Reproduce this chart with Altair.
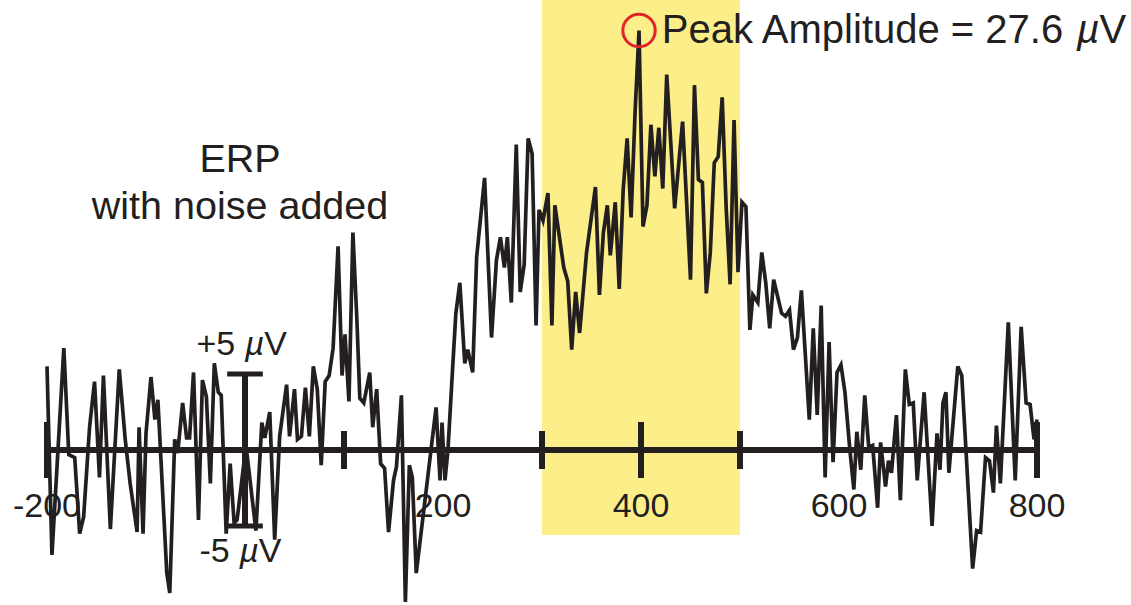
import altair as alt
import pandas as pd

# ERP waveform with noise (time in ms, amplitude in microvolts)
time_ms = [
    -200, -195, -183, -178, -172, -167, -163, -157, -152, -147, -143, -136, -127, -121, -116,
    -109, -107, -103, -100, -95, -91, -88, -79, -76, -71, -68, -63, -59, -56, -52, -47, -43,
    -39, -35, -31, -27, -24, -19, -15, -11, -8, 1, 11, 17, 20, 25, 30, 35, 42, 45, 50, 53, 57,
    61, 65, 69, 73, 77, 81, 85, 89, 94, 98, 101, 105, 109, 113, 116, 120, 126, 129, 133, 137,
    141, 145, 150, 153, 158, 162, 166, 169, 173, 193, 197, 199, 202, 205, 210, 213, 217, 222,
    225, 230, 234, 242, 249, 254, 258, 262, 265, 269, 274, 278, 282, 286, 290, 294, 297, 301,
    306, 310, 313, 322, 326, 330, 334, 338, 345, 354, 358, 362, 366, 369, 374, 378, 382, 386,
    390, 394, 398, 402, 406, 410, 414, 418, 422, 426, 434, 442, 450, 454, 458, 462, 466, 470,
    474, 478, 482, 486, 490, 494, 498, 502, 506, 510, 513, 518, 522, 526, 530, 534, 538, 542,
    546, 550, 554, 558, 562, 570, 574, 578, 582, 586, 590, 594, 598, 602, 606, 611, 615, 618,
    622, 626, 630, 634, 639, 642, 647, 650, 653, 658, 662, 667, 671, 675, 679, 686, 694, 699,
    702, 705, 708, 711, 720, 724, 735, 739, 743, 748, 752, 756, 759, 763, 771, 778, 784, 789,
    793, 797, 800,
]
amplitude_uv = [
    5.5, -6.9, 6.7, -0.3, -0.5, -5.5, -4.4, 1.5, 4.5, -1.8, 4.9, -5.2, 5.3, 0.7, -2.2,
    -5.4, 1.5, -5.5, 1.1, 4.8, 2.0, 3.3, -8.1, -9.4, 0.7, -0.2, 3.1, 0.8, 0.8, 5.1, -4.6, 4.6,
    3.5, -2.2, 5.7, 3.8, 3.6, -5.5, -0.9, -4.8, -4.6, 0.3, -5.3, 1.8, 0.8, 2.5, -5.9, 0.9, 4.3,
    0.9, 4.0, 0.7, 0.9, 4.1, 0.9, 5.5, 4.0, -1.0, 4.5, 4.9, 6.7, 13.4, 4.9, 7.6, 3.2, 14.3,
    8.6, 3.4, 3.1, 5.1, 1.5, 4.0, -0.9, -1.2, -5.4, -2.0, -1.1, 3.6, -10.0, -1.0, -1.8, -8.1,
    2.8, -2.0, 1.8, -2.0, 0.0, 5.7, 9.0, 11.0, 5.7, 6.6, 5.1, 12.7, 17.9, 7.4, 12.5, 14.0,
    12.0, 14.0, 9.7, 20.1, 10.4, 12.2, 20.5, 19.5, 8.2, 15.8, 15.1, 16.9, 8.2, 16.1, 12.0,
    11.1, 6.6, 10.4, 7.7, 13.0, 17.3, 10.2, 14.3, 16.1, 12.8, 16.3, 10.6, 17.1, 20.5, 15.3,
    22.2, 27.6, 14.7, 16.1, 21.4, 18.0, 21.2, 17.2, 24.7, 15.9, 21.6, 11.2, 24.0, 17.8, 17.6,
    10.3, 13.0, 18.9, 19.3, 23.2, 16.0, 10.9, 21.7, 11.7, 16.3, 16.0, 7.9, 10.2, 9.7, 13.0,
    11.0, 8.0, 11.2, 10.1, 9.0, 8.8, 9.2, 6.6, 7.4, 10.5, 2.0, 8.0, 2.3, 9.5, -1.8, 7.1, -0.8,
    5.1, 5.6, 3.8, 0.0, -2.6, 1.2, -1.3, 3.6, 0.2, 0.3, -3.8, 0.5, -2.4, -0.7, -1.5, 2.3, -3.3,
    5.3, 3.0, 3.1, -2.0, 3.8, -5.0, 1.1, -1.3, 3.1, 3.8, -1.5, 5.5, 4.9, -7.8, -5.3, -5.4,
    -0.5, -0.7, -2.8, 1.6, -2.2, 8.4, -2.0, 8.1, 3.1, 3.0, 0.7, 2.0,
]

major_ticks = [-200, 400, 800]
minor_ticks = [100, 300, 500]
tick_labels = [-200, 200, 400, 600, 800]
measure_window = [300, 500]
scale_bar = 5

INK = "#231f20"
YELLOW = "#fcef89"
RED = "#e3232a"
FONT = "Liberation Sans"

# Layout: pixels per unit, with 0 ms / 0 uV placed inside a borderless canvas
W, H = 1131, 605
PX_MS = 0.99
PX_UV = 15.2
X_MIN = -200 - 47 / PX_MS
X_MAX = X_MIN + W / PX_MS
Y_MAX = 450 / PX_UV
Y_MIN = Y_MAX - H / PX_UV

xs = alt.Scale(domain=[X_MIN, X_MAX], nice=False, zero=False)
ys = alt.Scale(domain=[Y_MIN, Y_MAX], nice=False, zero=False)


def X(field="t"):
    return alt.X(f"{field}:Q", scale=xs, axis=None)


def Y(field="v"):
    return alt.Y(f"{field}:Q", scale=ys, axis=None)


wave = pd.DataFrame({"t": time_ms, "v": amplitude_uv})
peak = wave.loc[[wave["v"].idxmax()]]

window = pd.DataFrame({"t": [measure_window[0]], "t2": [measure_window[1]],
                       "v": [Y_MAX], "v2": [-5.6]})
highlight = alt.Chart(window).mark_rect(color=YELLOW).encode(
    x=X(), x2="t2", y=Y(), y2="v2")

line = alt.Chart(wave).mark_line(color=INK, strokeWidth=3.7).encode(x=X(), y=Y())

axis_df = pd.DataFrame({"t": [major_ticks[0]], "t2": [major_ticks[-1]], "v": [0]})
axis_line = alt.Chart(axis_df).mark_rule(color=INK, strokeWidth=6).encode(
    x=X(), x2="t2", y=Y())

major = alt.Chart(pd.DataFrame({"t": major_ticks, "v": 0})).mark_tick(
    orient="vertical", color=INK, size=56, thickness=6, opacity=1).encode(x=X(), y=Y())
minor = alt.Chart(pd.DataFrame({"t": minor_ticks, "v": 0})).mark_tick(
    orient="vertical", color=INK, size=38, thickness=6, opacity=1).encode(x=X(), y=Y())

bar_df = pd.DataFrame({"t": [0], "v": [-scale_bar], "v2": [scale_bar]})
bar = alt.Chart(bar_df).mark_rule(color=INK, strokeWidth=6).encode(x=X(), y=Y(), y2="v2")
caps_df = pd.DataFrame({"t": [-18, -18], "t2": [18, 18], "v": [scale_bar, -scale_bar]})
caps = alt.Chart(caps_df).mark_rule(color=INK, strokeWidth=5).encode(x=X(), x2="t2", y=Y())

ring = alt.Chart(peak).mark_point(shape="circle", filled=False, size=1050,
                                  strokeWidth=3, color=RED, opacity=1).encode(x=X(), y=Y())

labels_df = pd.DataFrame({"t": tick_labels, "v": -4.4,
                          "text": [str(x) for x in tick_labels]})
tick_text = alt.Chart(labels_df).mark_text(
    font=FONT, fontSize=34, color=INK, align="center", baseline="alphabetic").encode(
    x=X(), y=Y(), text="text:N")

title_df = pd.DataFrame({"t": [-5, -5], "v": [18.3, 15.2],
                         "text": ["ERP", "with noise added"]})
title_text = alt.Chart(title_df).mark_text(
    font=FONT, fontSize=39.5, color=INK, align="center", baseline="alphabetic").encode(
    x=X(), y=Y(), text="text:N")

# Arial-compatible advance widths (em) used to run text segments together
ADV = {"P": .667, "e": .556, "a": .556, "k": .5, " ": .278, "A": .667, "m": .833,
       "p": .556, "l": .222, "i": .222, "t": .278, "u": .556, "d": .556, "=": .584,
       "2": .556, "7": .556, ".": .278, "6": .556, "+": .584, "5": .556, "-": .333,
       "\u00b5": .577, "V": .667}


def run_text(t0, v, size, parts):
    """Lay out (text, style) parts left to right starting at t0."""
    layers = []
    t = t0
    for text, style in parts:
        df = pd.DataFrame({"t": [t], "v": [v], "text": [text]})
        layers.append(alt.Chart(df).mark_text(
            font=FONT, fontSize=size, fontStyle=style, color=INK,
            align="left", baseline="alphabetic").encode(x=X(), y=Y(), text="text:N"))
        t += sum(ADV.get(c, .556) for c in text) * size / PX_MS
    return layers


MU = "\u00b5"
peak_label = run_text(421, 26.8, 40, [("Peak Amplitude = 27.6 ", "normal"),
                                      (MU, "italic"), ("V", "normal")])
plus_label = run_text(-49, 6.25, 34, [("+5 ", "normal"), (MU, "italic"), ("V", "normal")])
minus_label = run_text(-46, -7.35, 34, [("-5 ", "normal"), (MU, "italic"), ("V", "normal")])

chart = alt.layer(
    highlight, line, axis_line, major, minor, bar, caps, ring,
    tick_text, title_text, *peak_label, *plus_label, *minus_label,
).properties(
    width=W, height=H, padding=0,
    autosize=alt.AutoSizeParams(type="none"),
    background="white",
).configure_view(strokeWidth=0)

chart.save("out.html", embed_options={"renderer": "svg", "actions": False})
